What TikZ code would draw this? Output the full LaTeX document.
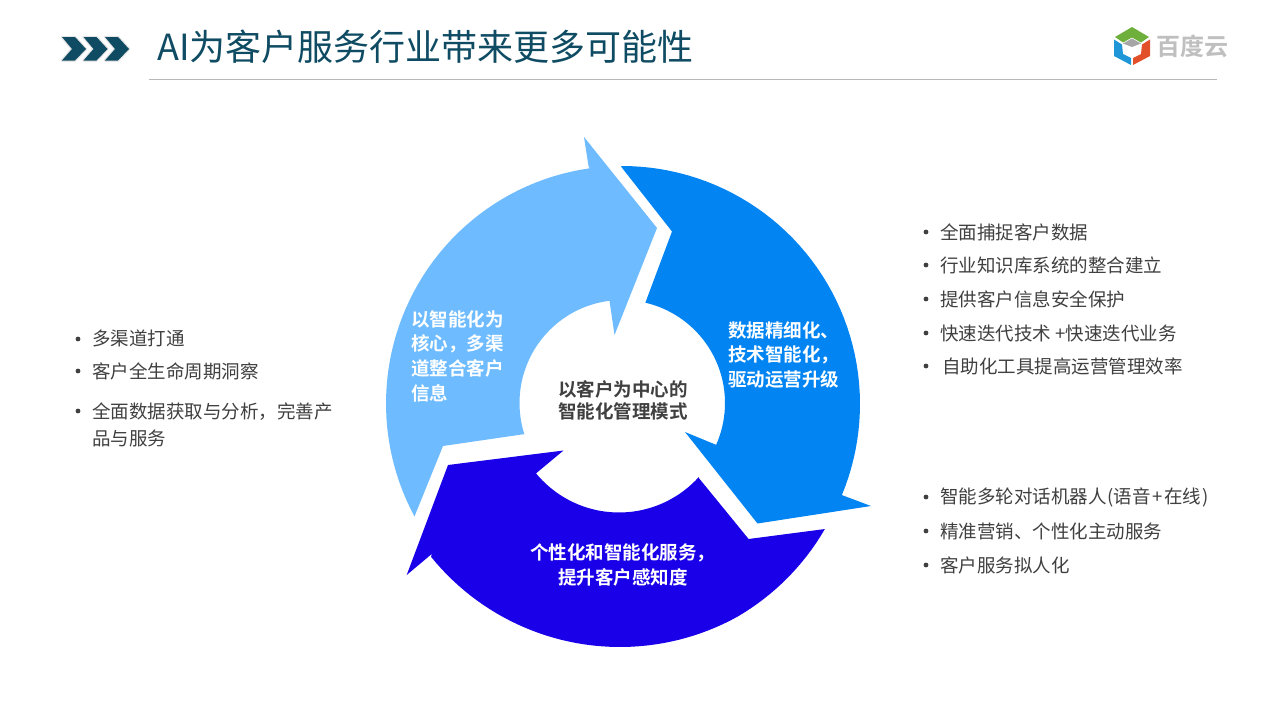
\documentclass[tikz,border=0pt]{standalone}
\usepackage{fontspec}
\setmainfont{Noto Sans CJK SC}
\newfontfamily\boldcjk{Noto Sans CJK SC Bold}
\definecolor{teal}{HTML}{0F4C63}
\definecolor{lightb}{HTML}{6EBCFF}
\definecolor{midb}{HTML}{0285F3}
\definecolor{darkb}{HTML}{1A00E8}
\definecolor{txt}{HTML}{404040}
\definecolor{lgreen}{HTML}{6FB03C}
\definecolor{lblue}{HTML}{1E96D8}
\definecolor{lred}{HTML}{E2502A}
\tikzset{x=1pt,y=-1pt,
 bul/.style={anchor=west,font=\fontsize{18.5}{18.5}\selectfont,text=txt,inner sep=0pt},
 wht/.style={align=left,anchor=west,inner sep=0pt,text=white,font=\boldcjk\fontsize{18.5}{24.7}\selectfont},
 dotb/.style={fill=txt}}
\begin{document}
\begin{tikzpicture}
\useasboundingbox (0,0) rectangle (1280,720);
\fill[white] (0,0) rectangle (1280,720);
% chevrons
\foreach \x in {62,83.5,105}{
 \draw[line width=2.5pt,black,opacity=.10,line join=round] (\x,37)--(\x+13,37)--(\x+24,49)--(\x+13,60.5)--(\x,60.5)--(\x+10,49)--cycle;
 \fill[teal] (\x,37)--(\x+13,37)--(\x+24,49)--(\x+13,60.5)--(\x,60.5)--(\x+10,49)--cycle;}
\node[anchor=west,inner sep=0pt,text=teal,font=\fontsize{36}{36}\selectfont] (title) at (157,47) {AI为客户服务行业带来更多可能性};
\coordinate (ra) at (149,79); \coordinate (rb) at (1217,79);
\draw[line width=.8pt,draw=black!28] (ra)--(rb);
% logo
\fill[lgreen] (1132,27)--(1149,37)--(1141,42.5)--(1132,37.5)--(1123,42.5)--(1115,37)--cycle;
\fill[black!35] (1123,43.5)--(1132,38.5)--(1141,43.5)--(1132,47)--cycle;
\fill[lblue] (1114,39.5)--(1122,44.5)--(1123,54)--(1131,58)--(1131,65)--(1114,56)--cycle;
\fill[lred] (1150,39.5)--(1142,44.5)--(1141,54)--(1133,58)--(1133,65)--(1150,56)--cycle;
\node[anchor=west,inner sep=0pt,text=black!25,font=\boldcjk\fontsize{24}{24}\selectfont] (logo) at (1156,46.5) {百度云};
% light arrow
\fill[lightb] (584,137)--(588.5,166)
 -- plot[domain=262:151.6,samples=50] ({622.5+236.5*cos(\x)},{403.5+237.5*sin(\x)})
 --(443,446)--(525,434)
 -- plot[domain=162.3:263,samples=40] ({622+102.5*cos(\x)},{403+103*sin(\x)})
 --(614.5,335)--(657,228)--cycle;
% mid arrow
\fill[midb] (621,166.5)
 -- plot[domain=-90:22.5,samples=50] ({622+238*cos(\x)},{404+238*sin(\x)})
 --(871,506)--(757.5,523.5)--(685,432)--(718,445.6)
 -- plot[domain=23.9:-76.9,samples=40] ({622+103*cos(\x)},{403+103*sin(\x)})
 --(672,231.5)--cycle;
% dark arrow
\fill[darkb] (448,465)--(563.5,450.5)--(536.8,472.7)
 -- plot[domain=140.5:42.3,samples=40] ({619+107.5*cos(\x)},{405+107.5*sin(\x)})
 --(698,477)--(748.6,539)
 -- plot[domain=31.4:141,samples=60] ({620+min(243,240+(\x-31.4)*0.1)*cos(\x)},{404+min(243,240+(\x-31.4)*0.1)*sin(\x)})
 --(431.7,554)--(406.7,575)--cycle;
% texts on arrows
\node[wht] (t1) at (411,356) {以智能化为\\核心，多渠\\道整合客户\\信息};
\node[wht] (t2) at (728,355) {数据精细化、\\技术智能化，\\驱动运营升级};
\node[wht] (t3) at (530,565) {个性化和智能化服务，\\\hspace{28pt}提升客户感知度};
\node[anchor=center,align=center,inner sep=0pt,text=txt,font=\boldcjk\fontsize{18.5}{22}\selectfont] (t0) at (623,400) {以客户为中心的\\智能化管理模式};
% right lists
\foreach \y in {232,265,299,333,366,497,531,565}{\fill[dotb] (926,\y) circle[radius=2.4pt];}
\node[bul] (r1) at (940,232.4) {全面捕捉客户数据};
\node[bul] (r2) at (940,265.4) {行业知识库系统的整合建立};
\node[bul] (r3) at (940,299.4) {提供客户信息安全保护};
\node[bul] (r4) at (940,333.4) {快速迭代技术 +快速迭代业务};
\node[bul] (r5) at (942,366.4) {自助化工具提高运营管理效率};
\node[bul] (r6) at (940,497.4) {智能多轮对话机器人\hspace{1pt}(语音\hspace{1.5pt}+\hspace{1.5pt}在线\hspace{1pt})};
\node[bul] (r7) at (940,531.4) {精准营销、个性化主动服务};
\node[bul] (r8) at (940,565.4) {客户服务拟人化};
% left list
\foreach \y in {339,371,411}{\fill[dotb] (78,\y) circle[radius=2.4pt];}
\node[bul] (l1) at (92,338.4) {多渠道打通};
\node[bul] (l2) at (92,371.4) {客户全生命周期洞察};
\node[bul] (l3) at (92,411.4) {全面数据获取与分析，完善产};
\node[bul] (l4) at (92,438.4) {品与服务};
\end{tikzpicture}
\end{document}
